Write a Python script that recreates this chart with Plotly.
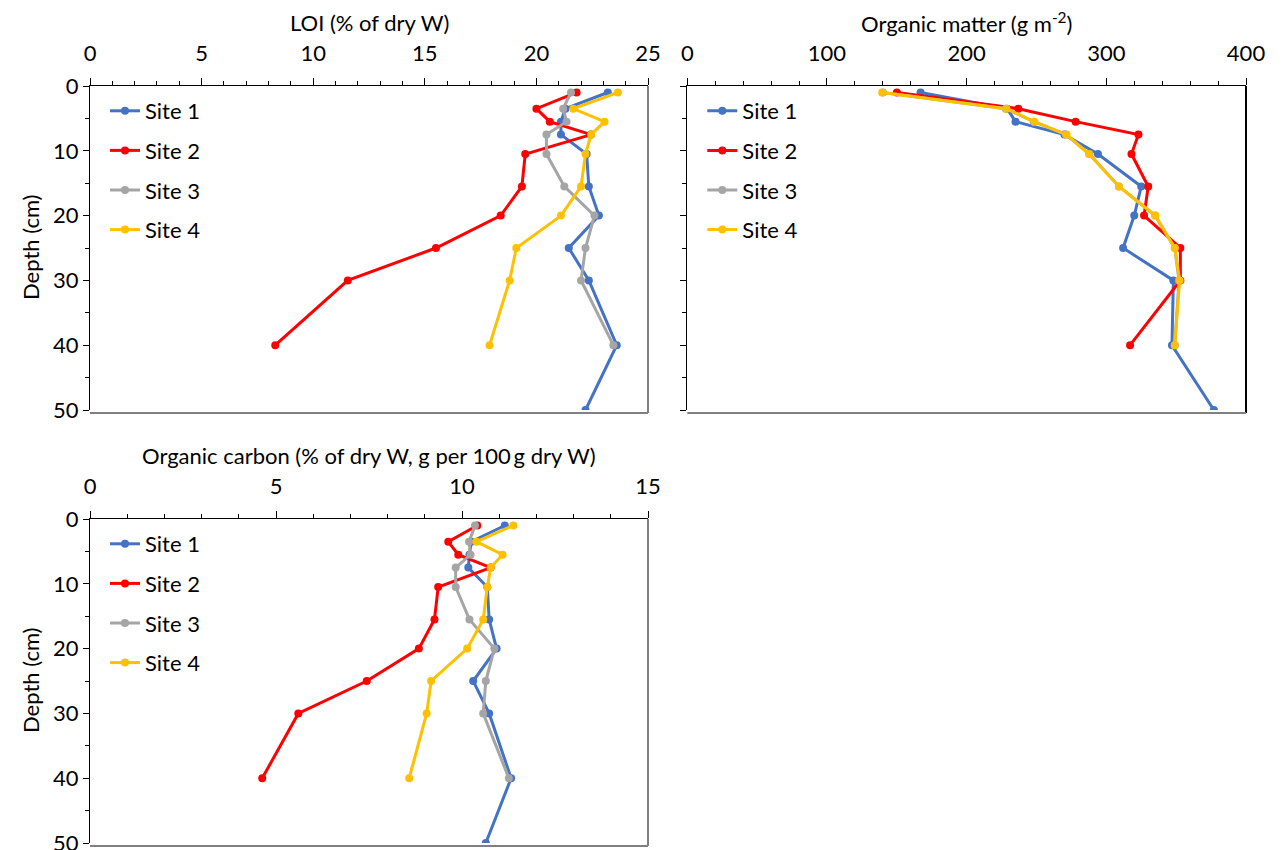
import plotly.graph_objects as go

OFF = 8  # default page margin around the plot div
W, H = 1283 - OFF, 850 - OFF  # 1275 x 842

sites = ["Site 1", "Site 2", "Site 3", "Site 4"]
colors = ["#4472C4", "#FF0000", "#A5A5A5", "#FFC000"]

depth_s1 = [1, 3.5, 5.5, 7.5, 10.5, 15.5, 20, 25, 30, 40, 50]
depth_other = [1, 3.5, 5.5, 7.5, 10.5, 15.5, 20, 25, 30, 40]

# LOI (% of dry W)
loi_s1 = [23.2, 21.3, 21.1, 21.1, 22.25, 22.35, 22.8, 21.45, 22.35, 23.6, 22.2]
loi_s2 = [21.8, 20.0, 20.6, 22.45, 19.5, 19.35, 18.4, 15.5, 11.55, 8.3]
loi_s3 = [21.55, 21.2, 21.35, 20.45, 20.45, 21.25, 22.6, 22.2, 22.0, 23.45]
loi_s4 = [23.65, 21.65, 23.05, 22.45, 22.2, 22.0, 21.1, 19.1, 18.8, 17.9]

# Organic matter (g m-2)
om_s1 = [167, 229, 235, 270, 294, 325, 320, 312, 348, 347, 377]
om_s2 = [150, 237, 278, 323, 318, 330, 327, 353, 353, 317]
om_s3 = [140, 228, 248, 271, 288, 309, 335, 349, 352, 349]
om_s4 = [139.5, 228.5, 248.5, 271.5, 287.5, 309, 335, 349, 352.5, 349]

# Organic carbon (% of dry W)
oc_s1 = [11.15, 10.25, 10.2, 10.17, 10.68, 10.73, 10.93, 10.3, 10.73, 11.32, 10.64]
oc_s2 = [10.41, 9.63, 9.9, 10.77, 9.36, 9.26, 8.84, 7.44, 5.6, 4.63]
oc_s3 = [10.35, 10.19, 10.23, 9.83, 9.83, 10.2, 10.87, 10.64, 10.57, 11.26]
oc_s4 = [11.38, 10.39, 11.09, 10.77, 10.68, 10.57, 10.14, 9.17, 9.05, 8.58]

panels = [
    dict(vals=[loi_s1, loi_s2, loi_s3, loi_s4], xr=[0, 25], dtick=5, minor=1,
         title="LOI (% of dry W)"),
    dict(vals=[om_s1, om_s2, om_s3, om_s4], xr=[0, 400], dtick=100, minor=20,
         title="Organic matter (g m<sup>-2</sup>)"),
    dict(vals=[oc_s1, oc_s2, oc_s3, oc_s4], xr=[0, 15], dtick=5, minor=1,
         title="Organic carbon (% of dry W, g per 100\u2009g dry W)"),
]

# pixel boxes in the screenshot (left, right, top, bottom)
boxes = [(90, 648, 86, 410), (687.3, 1246, 86, 410), (90, 648, 519, 843)]


def px(x):
    return (x - OFF) / W


def py(y):
    return 1 - (y - OFF) / H


FONT = "Lato"
FS = 22
fig = go.Figure()

for i, p in enumerate(panels):
    sfx = "" if i == 0 else str(i + 1)
    for j in range(4):
        d = depth_s1 if j == 0 else depth_other
        fig.add_trace(go.Scatter(
            x=p["vals"][j], y=d, mode="lines+markers", name=sites[j],
            line=dict(color=colors[j], width=3),
            marker=dict(color=colors[j], size=8),
            xaxis="x" + sfx, yaxis="y" + sfx,
            legend="legend" + sfx, legendgroup=f"p{i}s{j}",
        ))

layout = dict(
    width=W, height=H, margin=dict(l=0, r=0, t=0, b=0, autoexpand=False),
    paper_bgcolor="white", plot_bgcolor="white",
    font=dict(family=FONT, size=FS, color="black"),
    showlegend=True,
)

annotations = []
shapes = []
for i, (p, (l, r, t, b)) in enumerate(zip(panels, boxes)):
    sfx = "" if i == 0 else str(i + 1)
    layout["xaxis" + sfx] = dict(
        domain=[px(l), px(r)], range=p["xr"], side="top", anchor="y" + sfx,
        dtick=p["dtick"], showline=True, linecolor="black", linewidth=1.3,
        ticks="outside", ticklen=7, tickcolor="black", tickwidth=1.3,
        minor=dict(dtick=p["minor"], ticks="outside", ticklen=4, tickcolor="black"),
        showgrid=False, zeroline=False, tickfont=dict(size=FS),
        ticklabelstandoff=8, fixedrange=True, automargin=False,
        ticklabeloverflow="allow",
    )
    layout["yaxis" + sfx] = dict(
        domain=[py(b), py(t)], range=[50, 0], anchor="x" + sfx, dtick=10,
        showline=True, linecolor="black", linewidth=1.3,
        ticks="outside", ticklen=6, tickcolor="black", tickwidth=1.3,
        minor=dict(dtick=5, ticks="outside", ticklen=4, tickcolor="black"),
        showgrid=False, zeroline=False, tickfont=dict(size=FS),
        showticklabels=(i != 1), fixedrange=True, automargin=False,
        ticklabeloverflow="allow",
    )
    layout["legend" + sfx] = dict(
        x=px(l + 15), y=py(t + 4), xanchor="left", yanchor="top",
        bgcolor="rgba(0,0,0,0)", font=dict(size=FS, family=FONT),
        tracegroupgap=8, itemwidth=30,
    )
    annotations.append(dict(
        text=p["title"], x=px((l + r) / 2), y=py(t - 64),
        xref="paper", yref="paper", showarrow=False,
        font=dict(size=FS, family=FONT), xanchor="center", yanchor="middle",
    ))
    if i != 1:
        annotations.append(dict(
            text="Depth (cm)", x=px(30), y=py((t + b) / 2),
            xref="paper", yref="paper", showarrow=False, textangle=-90,
            font=dict(size=FS, family=FONT), xanchor="center", yanchor="middle",
        ))
    edge = "#808080" if i != 1 else "black"
    shapes.append(dict(type="line", xref="paper", yref="paper",
                       x0=px(r), x1=px(r), y0=py(b + 3), y1=py(t),
                       line=dict(color=edge, width=2)))
    shapes.append(dict(type="line", xref="paper", yref="paper",
                       x0=px(l), x1=px(r), y0=py(b + 3), y1=py(b + 3),
                       line=dict(color="#808080", width=2)))

layout["annotations"] = annotations
layout["shapes"] = shapes
fig.update_layout(**layout)

fig.write_html("out.html")
